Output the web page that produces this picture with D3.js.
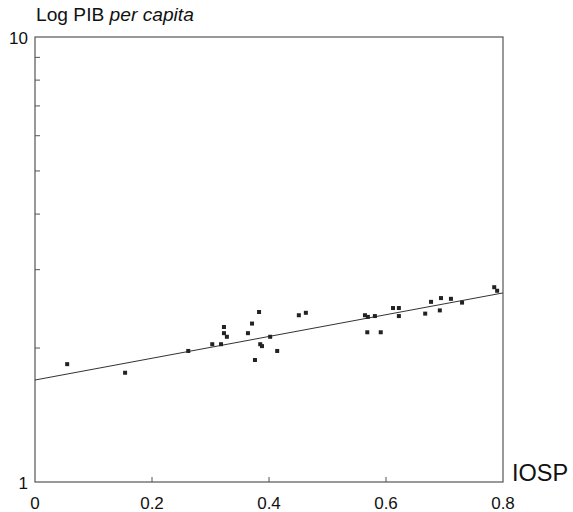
<!DOCTYPE html>
<html>
<head>
<meta charset="utf-8">
<script src="https://cdn.jsdelivr.net/npm/d3@7"></script>
<style>
  html, body { margin: 0; padding: 0; background: #fff; }
  svg text { font-family: "Liberation Sans", Arial, sans-serif; fill: #111; }
</style>
</head>
<body>
<svg id="chart" width="573" height="512"></svg>
<script>
// ---- data ----
const iosp = [0.055, 0.154, 0.262, 0.303, 0.318, 0.323, 0.323, 0.328, 0.364, 0.371,
              0.383, 0.385, 0.388, 0.376, 0.402, 0.414, 0.451, 0.463, 0.564, 0.569,
              0.581, 0.568, 0.591, 0.612, 0.622, 0.622, 0.667, 0.677, 0.694, 0.711,
              0.692, 0.730, 0.785, 0.790];
const pib  = [1.84, 1.76, 1.97, 2.04, 2.04, 2.23, 2.16, 2.12, 2.16, 2.27,
              2.41, 2.04, 2.02, 1.88, 2.12, 1.97, 2.37, 2.40, 2.37, 2.35,
              2.36, 2.17, 2.17, 2.46, 2.46, 2.36, 2.39, 2.54, 2.59, 2.58,
              2.43, 2.53, 2.74, 2.69];
// fitted regression line endpoints
const fitX = [0, 0.8];
const fitY = [1.695, 2.66];
const xTicks = [0, 0.2, 0.4, 0.6, 0.8];
const xTickLabels = ["0", "0.2", "0.4", "0.6", "0.8"];
const yTicks = [1, 10];
const yMinorTicks = [2, 3, 4, 5, 6, 7, 8, 9];

// ---- layout ----
const svg = d3.select("#chart");
const L = 35, R = 503, T = 37, B = 482;
const x = d3.scaleLinear().domain([0, 0.8]).range([L, R]);
const y = d3.scaleLog().domain([1, 10]).range([B, T]);

// frame
svg.append("rect").attr("x", L).attr("y", T).attr("width", R - L).attr("height", B - T)
  .attr("fill", "none").attr("stroke", "#555").attr("stroke-width", 1.2);

// y minor ticks (inward)
svg.append("g").selectAll("line").data(yMinorTicks).join("line")
  .attr("x1", L).attr("x2", L + 5)
  .attr("y1", d => y(d)).attr("y2", d => y(d))
  .attr("stroke", "#555").attr("stroke-width", 1);

// x ticks (inward)
svg.append("g").selectAll("line").data(xTicks.slice(1, -1)).join("line")
  .attr("x1", d => x(d)).attr("x2", d => x(d))
  .attr("y1", B).attr("y2", B - 5)
  .attr("stroke", "#555").attr("stroke-width", 1);

// x tick labels
svg.append("g").selectAll("text").data(xTicks).join("text")
  .attr("x", d => x(d)).attr("y", 509)
  .attr("text-anchor", "middle").attr("font-size", 17)
  .text((d, i) => xTickLabels[i]);

// y labels
svg.append("g").selectAll("text").data(yTicks).join("text")
  .attr("x", 28).attr("y", d => y(d) + 7)
  .attr("text-anchor", "end").attr("font-size", 17)
  .text(d => d);

// axis titles
const t = svg.append("text").attr("x", 36).attr("y", 21).attr("font-size", 19.2);
t.append("tspan").text("Log PIB ");
t.append("tspan").attr("font-style", "italic").text("per capita");
svg.append("text").attr("x", 512).attr("y", 481).attr("font-size", 23.5).text("IOSP");

// regression line
svg.append("line")
  .attr("x1", x(fitX[0])).attr("y1", y(fitY[0]))
  .attr("x2", x(fitX[1])).attr("y2", y(fitY[1]))
  .attr("stroke", "#333").attr("stroke-width", 1);

// points
svg.append("g").selectAll("rect").data(iosp).join("rect")
  .attr("x", (d, i) => x(d) - 2).attr("y", (d, i) => y(pib[i]) - 2)
  .attr("width", 4).attr("height", 4)
  .attr("fill", "#222");
</script>
</body>
</html>
